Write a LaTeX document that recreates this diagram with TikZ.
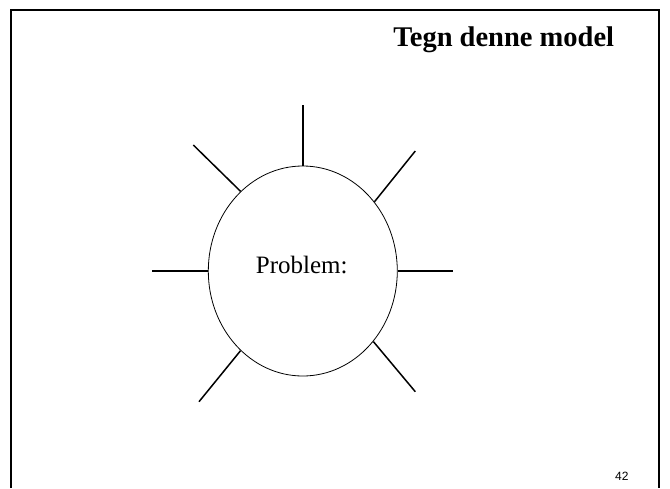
\documentclass[tikz,border=0pt]{standalone}
\usepackage{fontspec}
\setmainfont{Liberation Serif}
\newfontfamily\numfont{Liberation Sans}
\usetikzlibrary{shapes.geometric}
\tikzset{
  frameline/.style={line width=2.5pt, line cap=butt},
  bubble/.style={draw, ellipse, line width=0.8pt, minimum width=189pt, minimum height=210pt, inner sep=0pt},
  spoke/.style={line width=1.5pt},
  titletext/.style={font=\fontsize{28.5}{32}\selectfont\bfseries, inner sep=0pt},
  bodytext/.style={font=\fontsize{25}{29}\selectfont, inner sep=0pt},
  pagenum/.style={font=\numfont\fontsize{12}{14}\selectfont, inner sep=0pt}
}
\begin{document}
\begin{tikzpicture}[x=1pt,y=-1pt]
\useasboundingbox (0,0) rectangle (670,488);
\draw[frameline] (11,488) -- (11,10) -- (659,10) -- (659,488);
\node[titletext, anchor=base east] (title) at (614.3,46.7) {Tegn denne model};
\node[bubble] (e) at (302.8,271) {};
\node[bodytext, anchor=base] (prob) at (301.7,273) {Problem:};
\node[pagenum, anchor=base west] (num) at (615,480) {42};
\coordinate (top) at (302.8,105);
\coordinate (ul) at (193.3,145);
\coordinate (ur) at (415.3,151);
\coordinate (lf) at (151.7,271);
\coordinate (rt) at (453.3,271);
\coordinate (ll) at (199,401.7);
\coordinate (lr) at (415.3,391.7);
\draw[spoke] (e.90) -- (top);
\draw[spoke] (e.128) -- (ul);
\draw[spoke] (e.44.4) -- (ur);
\draw[spoke] (e.180) -- (lf);
\draw[spoke] (e.0) -- (rt);
\draw[spoke] (e.232) -- (ll);
\draw[spoke] (e.315.6) -- (lr);
\end{tikzpicture}
\end{document}
